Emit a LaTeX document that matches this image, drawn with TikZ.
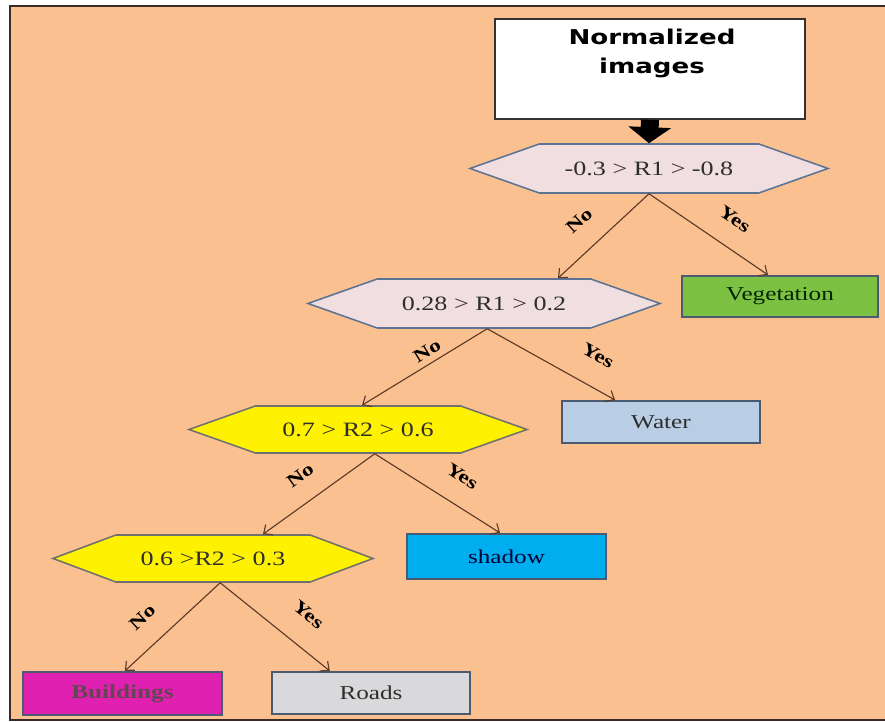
\documentclass[tikz,border=0pt]{standalone}
\usepackage{fontspec}
\setmainfont{Liberation Serif}[FakeStretch=1.28]
\newfontfamily\headfont{DejaVu Sans}[FakeStretch=1.28]
\usepackage{xcolor}
\usepackage{tikz}
\usetikzlibrary{shapes.symbols,arrows.meta}

\definecolor{peach}{HTML}{FAC090}
\definecolor{framecol}{HTML}{3A2C24}
\definecolor{pinkhex}{HTML}{F0DEE0}
\definecolor{pinkline}{HTML}{5D7393}
\definecolor{yellowline}{HTML}{707070}
\definecolor{boxline}{HTML}{4A5A70}
\definecolor{vegfill}{HTML}{7DC142}
\definecolor{waterfill}{HTML}{B9CDE5}
\definecolor{shadowfill}{HTML}{00AEEF}
\definecolor{buildfill}{HTML}{E020B0}
\definecolor{roadfill}{HTML}{D9D9DC}
\definecolor{branchcol}{HTML}{5C3A26}
\definecolor{textcol}{HTML}{2E2E2E}

\begin{document}
\begin{tikzpicture}[
    rule/.style={shape=signal, signal to=east and west, signal pointer angle=39,
        draw, line width=1.1pt, inner sep=0pt, text=textcol,
        font=\fontsize{14.5}{17}\selectfont},
    pinkrule/.style={rule, fill=pinkhex, draw=pinkline},
    yellowrule/.style={rule, fill=yellow, draw=yellowline},
    classbox/.style={shape=rectangle, draw=boxline, line width=1.5pt, inner sep=0pt,
        minimum height=1.05cm, minimum width=4.95cm,
        font=\fontsize{14}{17}\selectfont},
    branch/.style={draw=branchcol, line width=0.8pt, -{Straight Barb[length=5pt,width=9pt]}},
    lbl/.style={sloped, inner sep=0pt, text=black, font=\bfseries\fontsize{13}{15}\selectfont}
]
    \useasboundingbox (0,0) rectangle (22.125,18.05);
    \fill[peach] (0.25,0.05) rectangle (22.125,17.9);
    \draw[framecol, line width=2pt] (22.125,17.9) -- (0.25,17.9) -- (0.25,0.05) -- (22.125,0.05);

    % input box
    \node[draw=black!80, fill=white, line width=1.2pt, minimum width=7.75cm, minimum height=2.5cm] (norm) at (16.25,16.325) {};
    \node[align=center, font=\headfont\bfseries\fontsize{14.5}{20.6}\selectfont] (normtext) at (16.3,16.7125) {Normalized\\images};

    % rules
    \node[pinkrule, minimum width=8.95cm, minimum height=1.225cm] (r1) at (16.225,13.8375) {-0.3 > R1 > -0.8};
    \node[pinkrule, minimum width=8.8cm, minimum height=1.225cm] (r2) at (12.1,10.4625) {0.28 > R1 > 0.2};
    \node[yellowrule, minimum width=8.45cm, minimum height=1.175cm] (r3) at (8.95,7.3125) {0.7 > R2 > 0.6};
    \node[yellowrule, signal pointer angle=41, minimum width=8cm, minimum height=1.175cm] (r4) at (5.325,4.0875) {0.6 >R2 > 0.3};

    % classes
    \node[classbox, fill=vegfill, text=black!85!green, minimum width=4.9cm, minimum height=1.025cm] (veg) at (19.5,10.6375) {Vegetation};
    \node[classbox, fill=waterfill, text=textcol] (water) at (16.525,7.5) {Water};
    \node[classbox, fill=shadowfill, text=black!80!blue, minimum width=4.975cm, minimum height=1.125cm] (shadow) at (12.6625,4.1375) {shadow};
    \node[classbox, fill=buildfill, text=black!70!magenta, minimum width=4.975cm, minimum height=1.075cm, font=\bfseries\fontsize{14}{17}\selectfont] (build) at (3.0625,0.7125) {Buildings};
    \node[classbox, fill=roadfill, text=textcol] (roads) at (9.275,0.725) {Roads};

    \draw[black, line width=0.45cm, -{Triangle[width=1.05cm,length=0.4cm]}] (norm.south) -- (r1.north);

    \draw[branch] (r1.south) -- node[lbl, pos=0.56, above=15pt] {No} ([xshift=1.85cm]r2.north);
    \draw[branch] (r1.south) -- node[lbl, pos=0.59, above=15pt] {Yes} ([xshift=-0.3cm]veg.north);
    \draw[branch] ([xshift=0.08cm]r2.south) -- node[lbl, pos=0.43, above=4pt] {No} ([xshift=0.1cm]r3.north);
    \draw[branch] ([xshift=0.08cm]r2.south) -- node[lbl, pos=0.75, above=17pt] {Yes} ([xshift=-1.15cm]water.north);
    \draw[branch] ([xshift=0.42cm]r3.south) -- node[lbl, pos=0.53, above=14pt] {No} ([xshift=1.25cm]r4.north);
    \draw[branch] ([xshift=0.42cm]r3.south) -- node[lbl, pos=0.58, above=15pt] {Yes} ([xshift=-0.16cm]shadow.north);
    \draw[branch] ([xshift=0.18cm]r4.south) -- node[lbl, pos=0.62, above=15pt] {No} ([xshift=0.06cm]build.north);
    \draw[branch] ([xshift=0.18cm]r4.south) -- node[lbl, pos=0.63, above=17pt] {Yes} ([xshift=-1.03cm]roads.north);
\end{tikzpicture}
\end{document}
